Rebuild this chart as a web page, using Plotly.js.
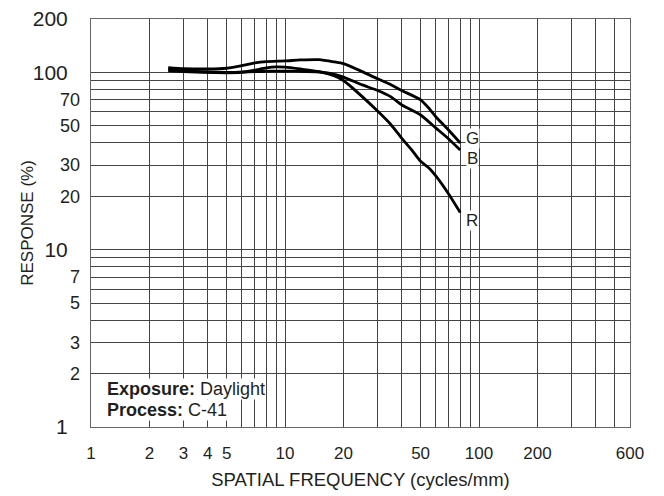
<!DOCTYPE html>
<html>
<head>
<meta charset="utf-8">
<script src="https://cdn.plot.ly/plotly-3.0.1.min.js"></script>
<style>
  html, body { margin: 0; padding: 0; background: #fff; }
  #chart { width: 664px; height: 496px; }
</style>
</head>
<body>
<div id="chart"></div>
<script>
// ---- Data ----
const xGridVals = [1,2,3,4,5,6,7,8,9,10,20,30,40,50,60,70,80,90,100,200,300,400,500,600];
const xTickText = ['1','2','3','4','5','','','','','10','20','','','50','','','','','100','200','','','','600'];

const yGridVals = [1,2,3,4,5,6,7,8,9,10,20,30,40,50,60,70,80,90,100,200];
const yMajorText = ['1','','','','','','','','','10','','','','','','','','','100','200'];
const yMinorVals = [2,3,5,7,20,30,50,70];
const yMinorText = ['2','3','5','7','20','30','50','70'];

const freqG = [2.5,3,4,5,6,7,8,10,12,15,18,20,25,30,35,40,50,55,60,70,80];
const respG = [106.5,105,104.5,105.5,109,113,115,116,117.5,118,114.5,112,101,92,85.5,79,70,63,56,47,40];

const freqB = [2.5,3,4,5,6,7,8,10,12,15,18,20,25,30,35,40,50,60,70,80];
const respB = [104,102,100.5,100,100.5,101,101.5,101.5,101.5,100.5,97.5,94,85,79,73,65.5,57.5,48.5,42,36.5];

const freqR = [2.5,3,4,5,6,7,8,9,10,12,15,18,20,25,30,35,40,45,50,55,60,70,80];
const respR = [102,101,100,99.5,100,103,106,107.5,107,104.5,101,95.5,90,73,60.5,51,42.5,36.5,31.5,29,26,20.5,16.2];

const seriesNames = ['G','B','R'];
const labelShift = { G: [12, 4], B: [12, -9], R: [12, -8] };

const FONT = 'Liberation Sans, Arial, Helvetica, sans-serif';
const TXT = '#231f20';

const seriesX = { G: freqG, B: freqB, R: freqR };
const seriesY = { G: respG, B: respB, R: respR };

const traces = seriesNames.map(n => ({
  type: 'scatter', mode: 'lines', name: n,
  x: seriesX[n], y: seriesY[n],
  line: { color: '#000', width: 2.8, shape: 'spline', smoothing: 0.6 },
  hoverinfo: 'skip', showlegend: false
}));
// invisible helper trace so the overlaid label axis is drawn
traces.push({ type: 'scatter', mode: 'markers', x: [freqG[0]], y: [respG[0]], yaxis: 'y2',
  marker: { opacity: 0 }, hoverinfo: 'skip', showlegend: false });

const annotations = seriesNames.map(n => {
  const xs = seriesX[n], ys = seriesY[n];
  return {
    xref: 'x', yref: 'y',
    x: Math.log10(xs[xs.length - 1]), y: Math.log10(ys[ys.length - 1]),
    text: n, showarrow: false, xanchor: 'center', yanchor: 'middle',
    xshift: labelShift[n][0], yshift: labelShift[n][1],
    bgcolor: '#fff', borderpad: 0,
    font: { family: FONT, size: 17, color: TXT }
  };
});
annotations.push({
  xref: 'paper', yref: 'paper', x: 0.027, y: 0.092, xanchor: 'left', yanchor: 'middle',
  text: '<b>Exposure:</b> Daylight', showarrow: false, bgcolor: '#fff', borderpad: 0,
  font: { family: FONT, size: 18, color: TXT }
});
annotations.push({
  xref: 'paper', yref: 'paper', x: 0.027, y: 0.042, xanchor: 'left', yanchor: 'middle',
  text: '<b>Process:</b> C-41', showarrow: false, bgcolor: '#fff', borderpad: 0,
  font: { family: FONT, size: 18, color: TXT }
});

const layout = {
  width: 664, height: 496,
  margin: { l: 91, r: 34, t: 19, b: 69 },
  paper_bgcolor: '#fff', plot_bgcolor: '#fff',
  showlegend: false,
  font: { family: FONT, color: TXT },
  xaxis: {
    type: 'log', range: [0, Math.log10(600)],
    tickmode: 'array', tickvals: xGridVals, ticktext: xTickText,
    ticks: '', ticklabelstandoff: 11,
    tickfont: { family: FONT, size: 17, color: TXT },
    showgrid: true, gridcolor: '#444', gridwidth: 1,
    showline: true, linecolor: '#666', linewidth: 1, mirror: true,
    zeroline: false, fixedrange: true,
    title: { text: 'SPATIAL FREQUENCY (cycles/mm)', standoff: 10,
      font: { family: FONT, size: 18.5, color: TXT } }
  },
  yaxis: {
    type: 'log', range: [0, Math.log10(200)],
    tickmode: 'array', tickvals: yGridVals, ticktext: yMajorText,
    ticks: '', ticklabelstandoff: 18,
    tickfont: { family: FONT, size: 21, color: TXT },
    showgrid: true, gridcolor: '#444', gridwidth: 1,
    showline: true, linecolor: '#666', linewidth: 1, mirror: true,
    zeroline: false, fixedrange: true
  },
  yaxis2: {
    type: 'log', range: [0, Math.log10(200)], overlaying: 'y', side: 'left',
    tickmode: 'array', tickvals: yMinorVals, ticktext: yMinorText,
    ticks: '', ticklabelstandoff: 10,
    tickfont: { family: FONT, size: 18, color: TXT },
    showgrid: false, showline: false, zeroline: false, fixedrange: true,
    title: { text: 'RESPONSE (%)', standoff: 22,
      font: { family: FONT, size: 17, color: TXT } }
  },
  annotations: annotations
};

Plotly.newPlot('chart', traces, layout, { staticPlot: true, displayModeBar: false });
</script>
</body>
</html>
